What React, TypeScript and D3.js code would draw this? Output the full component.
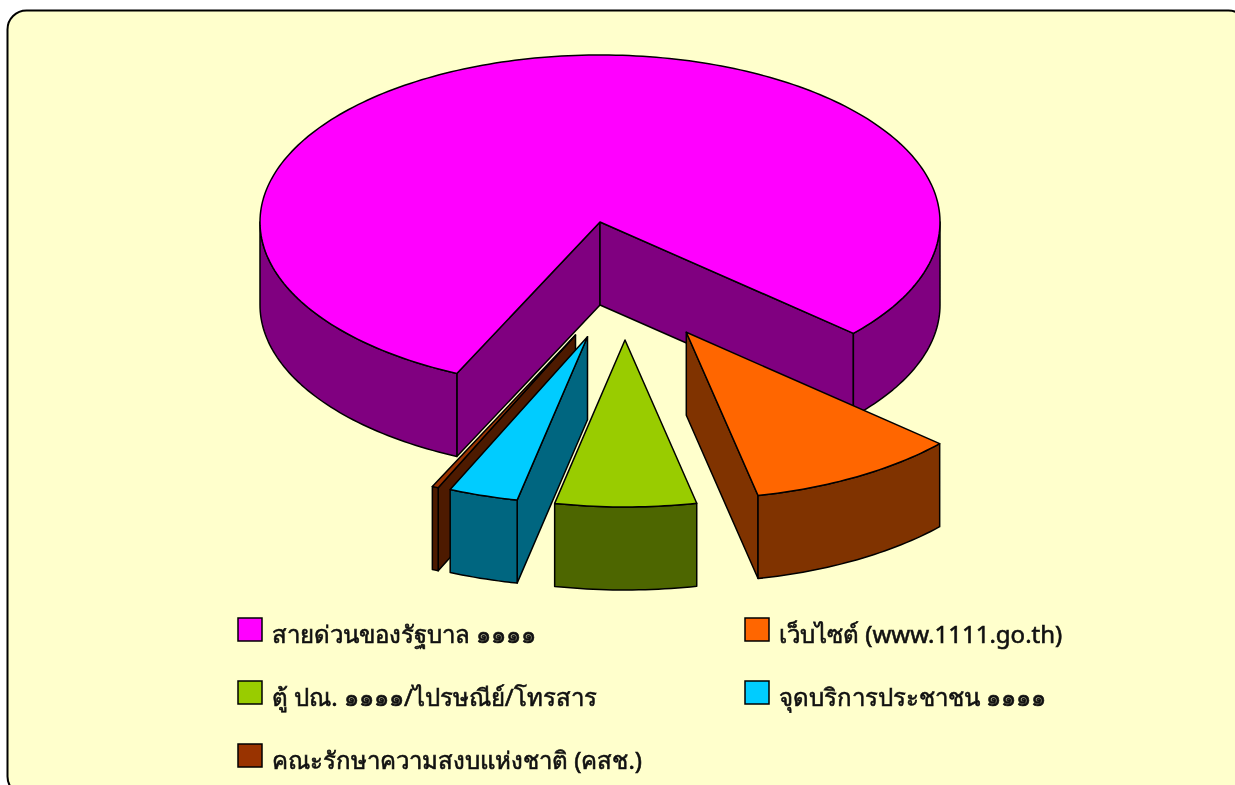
import React from "react";
import * as d3 from "d3";

const categories = [
  "สายด่วนของรัฐบาล ๑๑๑๑",
  "เว็บไซต์ (www.1111.go.th)",
  "ตู้ ปณ. ๑๑๑๑/ไปรษณีย์/โทรสาร",
  "จุดบริการประชาชน ๑๑๑๑",
  "คณะรักษาความสงบแห่งชาติ (คสช.)",
];
const shares = [79.7, 10.0, 6.7, 3.3, 0.3];
const topColors = ["#FF00FF", "#FF6600", "#99CC00", "#00CCFF", "#993300"];
const wallColors = ["#800080", "#803300", "#4D6600", "#006680", "#4D1A00"];

// layout
const WIDTH = 1235;
const HEIGHT = 785;
const CX = 600;
const CY = 222;
const RX = 340;
const RY = 167;
const DEPTH = 83;
const explodeX = [0, 86.3, 25, -12.5, -24.5];
const explodeY = [0, 110.3, 118, 114.7, 113];
const drawOrder = [0, 1, 2, 4, 3];
const START = (204.9 * Math.PI) / 180;
const legendX = [238, 745];
const legendY = [618, 681, 744];
const legendPos = [
  [0, 0],
  [1, 0],
  [0, 1],
  [1, 1],
  [0, 2],
];
const TEXT_FONT = "'Noto Sans', sans-serif";

type Pt = [number, number];
const sx = d3.scaleLinear().domain([-1, 1]).range([-RX, RX]);
const sy = d3.scaleLinear().domain([-1, 1]).range([-RY, RY]);

function toPath(pts: Pt[]) {
  return (d3.line() as any)(pts) + "Z";
}
function arcPts(a0: number, a1: number, ox: number, oy: number, dz = 0): Pt[] {
  const n = Math.max(2, Math.ceil(Math.abs(a1 - a0) / 0.02));
  return d3.range(n + 1).map((i) => {
    const t = a0 + ((a1 - a0) * i) / n;
    return [ox + sx(Math.cos(t)), oy + sy(Math.sin(t)) + dz] as Pt;
  });
}
function frontRanges(a0: number, a1: number): [number, number][] {
  const out: [number, number][] = [];
  for (let k = -1; k <= 2; k++) {
    const lo = Math.max(a0, 2 * Math.PI * k);
    const hi = Math.min(a1, Math.PI + 2 * Math.PI * k);
    if (hi > lo) out.push([lo, hi]);
  }
  return out;
}

const pieGen = d3
  .pie<number>()
  .sort(null)
  .startAngle(START)
  .endAngle(START + 2 * Math.PI);

export default function App() {
  const arcs = pieGen(shares);
  const stroke = { stroke: "#000", strokeWidth: 1.5, strokeLinejoin: "round" as const };
  return (
    <svg
      width={WIDTH}
      height={HEIGHT}
      style={{ position: "fixed", left: 0, top: 0, display: "block" }}
    >
      <rect x={7.5} y={10.5} width={1240} height={785} rx={19} ry={19} fill="#FFFFCC" stroke="#000" strokeWidth={2} />
      {drawOrder.map((i) => {
        const d = arcs[i];
        const ox = CX + explodeX[i];
        const oy = CY + explodeY[i];
        const a0 = d.startAngle - Math.PI / 2;
        const a1 = d.endAngle - Math.PI / 2;
        const walls: string[] = [];
        const radial = (a: number) => {
          const [p] = arcPts(a, a, ox, oy);
          walls.push(toPath([[ox, oy], p, [p[0], p[1] + DEPTH], [ox, oy + DEPTH]]));
        };
        if (Math.cos(a0) < 0) radial(a0);
        if (Math.cos(a1) > 0) radial(a1);
        frontRanges(a0, a1).forEach(([lo, hi]) => {
          const top = arcPts(lo, hi, ox, oy);
          const bot = arcPts(hi, lo, ox, oy, DEPTH);
          walls.push(toPath([...top, ...bot]));
        });
        const face = toPath([[ox, oy], ...arcPts(a0, a1, ox, oy)]);
        return (
          <g key={categories[i]}>
            {walls.map((w, j) => (
              <path key={j} d={w} fill={wallColors[i]} {...stroke} />
            ))}
            <path d={face} fill={topColors[i]} {...stroke} />
          </g>
        );
      })}
      {categories.map((c, i) => {
        const x = legendX[legendPos[i][0]];
        const y = legendY[legendPos[i][1]];
        return (
          <g key={c}>
            <rect x={x} y={y} width={24} height={23} fill={topColors[i]} stroke="#000" strokeWidth={1.5} />
            <text
              x={x + 34}
              y={y + 25}
              fontFamily={TEXT_FONT}
              fontWeight={400}
              fontSize={24}
              fill="#111"
              stroke="#111"
              strokeWidth={0.6}
            >
              {c}
            </text>
          </g>
        );
      })}
    </svg>
  );
}
